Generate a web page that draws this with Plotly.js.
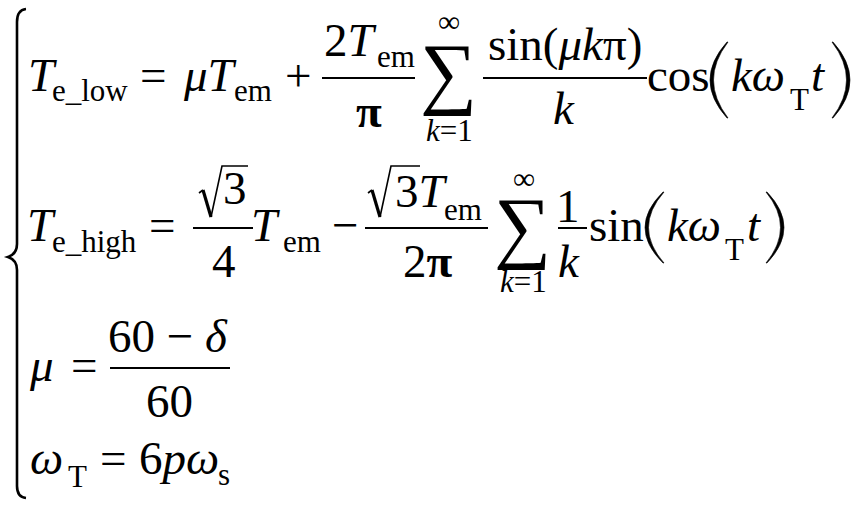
<!DOCTYPE html>
<html>
<head>
<meta charset="utf-8">
<script src="https://cdn.plot.ly/plotly-3.0.1.min.js"></script>
<style>
  html, body { margin: 0; padding: 0; background: #fff; }
  #chart { width: 856px; height: 507px; }
</style>
</head>
<body>
<div id="chart"></div>
<script>
const W = 856;
const H = 507;
const SERIF = "Liberation Serif";
const ASC = 0.891; // Liberation Serif ascent, used to place text by its baseline

// the pieces of the system of equations
const lhsSymbols = ["T", "T", "μ", "ω"];
const lhsSubs = ["e_low", "e_high", "", "T"];
const torqueSub = "em";
const sumLimits = ["∞", "k=1"];
const fracNumerators = ["2", "sin(μkπ)", "3", "3", "1", "60 − δ"];
const fracDenominators = ["π", "k", "4", "2π", "k", "60"];
const harmonicArg = ["kω", "T", "t"];
const carrierFactor = ["6", "pω", "s"];

const MAIN = 47;
const SUB = 31;
const LIM = 31;

const annotations = [];
const shapes = [];

function txt(text, x, base, size, anchor) {
  annotations.push({
    xref: "x", yref: "y", x: x, y: base - ASC * size,
    xanchor: anchor || "left", yanchor: "top",
    text: text, showarrow: false, borderpad: 0, borderwidth: 0,
    font: { family: SERIF, size: size, color: "#000" },
  });
}

const it = (s) => `<i>${s}</i>`;

function bar(x0, x1, y) {
  shapes.push({ type: "line", xref: "x", yref: "y", x0, x1, y0: y, y1: y,
    line: { color: "#000", width: 2 } });
}

function path(d, width, fill) {
  shapes.push({ type: "path", xref: "x", yref: "y", path: d,
    line: { color: "#000", width: width }, fillcolor: fill || "rgba(0,0,0,0)" });
}

// tall parenthesis drawn as a crescent, dir = 1 for "(" and -1 for ")"
function paren(xEdge, xTip, y0, y1, dir) {
  const ym = (y0 + y1) / 2;
  const thick = 3 * dir;
  const cOut = 2 * xEdge - xTip;
  const cIn = 2 * (xEdge + thick) - xTip;
  path(`M${xTip},${y0} Q${cOut},${ym} ${xTip},${y1} L${xTip + dir},${y1} Q${cIn},${ym} ${xTip + dir},${y0} Z`, 0.6, "#000");
}

function radical(x, top, bottom, barEnd) {
  path(`M${x},${top + 27} L${x + 4},${top + 24}`, 1.6);
  path(`M${x + 4},${top + 24} L${x + 12},${bottom}`, 3.2);
  path(`M${x + 12},${bottom} L${x + 23},${top} L${barEnd},${top}`, 1.6);
}

function sigma(cx, cy) {
  annotations.push({
    xref: "x", yref: "y", x: cx, y: cy, xanchor: "center", yanchor: "middle",
    text: "∑", showarrow: false, borderpad: 0, borderwidth: 0,
    font: { family: SERIF, size: 80, color: "#000" },
  });
}

// left brace
path("M26,9 Q17,10 17,22 L17,244 Q17,254 8,257 Q17,260 17,270 L17,486 Q17,497 26,498", 2.6);

// ---- line 1 ----
const B1 = 91;
txt(it(lhsSymbols[0]), 28, B1, MAIN);
txt(lhsSubs[0], 52, B1 + 10, SUB);
txt("=", 140, B1, MAIN);
txt(it(lhsSymbols[2] + "T"), 183, B1, MAIN);
txt(torqueSub, 234, B1 + 10, SUB);
txt("+", 285, B1, MAIN);
bar(322, 415, 78);
txt(fracNumerators[0] + it("T"), 324, 56, MAIN);
txt(torqueSub, 377, 67, SUB);
txt(`<b>${fracDenominators[0]}</b>`, 369, 127, MAIN, "center");
sigma(448, 72);
txt(sumLimits[0], 449, 32, LIM, "center");
txt(it("k") + sumLimits[1].slice(1), 449, 141, LIM, "center");
bar(483, 647, 78);
txt("sin(" + it("μk") + "π)", 565, 60, MAIN, "center");
txt(it(fracDenominators[1]), 564, 124, MAIN, "center");
txt("cos", 647, B1, MAIN);
paren(710, 727, 42, 118, 1);
txt(it(harmonicArg[0]), 731, B1, MAIN);
txt(harmonicArg[1], 790, 110, SUB);
txt(it(harmonicArg[2]), 811, B1, MAIN);
paren(850, 833, 42, 118, -1);

// ---- line 2 ----
const B2 = 241;
txt(it(lhsSymbols[1]), 27, B2, MAIN);
txt(lhsSubs[1], 52, B2 + 11, SUB);
txt("=", 149, B2, MAIN);
bar(193, 253, 228);
radical(199, 166, 217, 248);
txt(fracNumerators[2], 223, 204, MAIN);
txt(fracDenominators[2], 224, 277, MAIN, "center");
txt(it("T"), 251, B2, MAIN);
txt(torqueSub, 283, B2 + 11, SUB);
txt("−", 332, B2, MAIN);
bar(365, 488, 228);
radical(368, 166, 217, 420);
txt(fracNumerators[3] + it("T"), 395, 207, MAIN);
txt(torqueSub, 444, 220, SUB);
txt("2<b>π</b>", 428, 277, MAIN, "center");
sigma(522, 226);
txt(sumLimits[0], 524, 189, LIM, "center");
txt(it("k") + sumLimits[1].slice(1), 523, 292, LIM, "center");
bar(558, 587, 228);
txt(fracNumerators[4], 568, 222, MAIN, "center");
txt(it(fracDenominators[4]), 569, 277, MAIN, "center");
txt("sin", 589, B2, MAIN);
paren(645, 663, 192, 263, 1);
txt(it(harmonicArg[0]), 667, B2, MAIN);
txt(harmonicArg[1], 725, 260, SUB);
txt(it(harmonicArg[2]), 747, B2, MAIN);
paren(784, 767, 192, 263, -1);

// ---- line 3 ----
const B3 = 381;
txt(it(lhsSymbols[2]), 29, B3, MAIN);
txt("=", 71, B3, MAIN);
bar(110, 230, 368);
txt(fracNumerators[5].replace("δ", it("δ")), 168, 352, MAIN, "center");
txt(fracDenominators[5], 169, 417, MAIN, "center");

// ---- line 4 ----
const B4 = 474;
txt(it(lhsSymbols[3]), 30, B4, MAIN);
txt(lhsSubs[3], 68, B4 + 13, SUB);
txt("=", 100, B4, MAIN);
txt(carrierFactor[0] + it(carrierFactor[1]), 139, B4, MAIN);
txt(carrierFactor[2], 218, B4 + 11, SUB);

Plotly.newPlot("chart", [], {
  width: W,
  height: H,
  margin: { l: 0, r: 0, t: 0, b: 0, pad: 0 },
  paper_bgcolor: "#fff",
  plot_bgcolor: "#fff",
  showlegend: false,
  xaxis: { range: [0, W], visible: false, fixedrange: true },
  yaxis: { range: [H, 0], visible: false, fixedrange: true },
  annotations: annotations,
  shapes: shapes,
}, { displayModeBar: false, staticPlot: true });
</script>
</body>
</html>
